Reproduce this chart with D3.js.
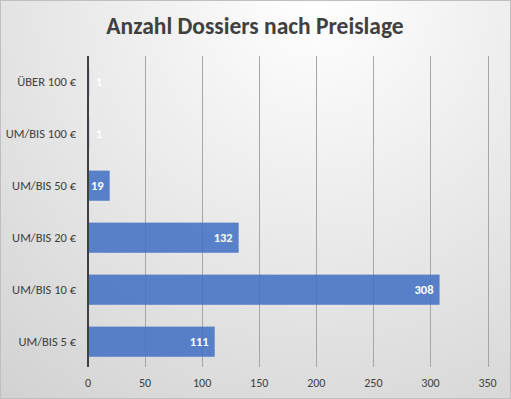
<!DOCTYPE html>
<html><head><meta charset="utf-8">
<script src="https://cdn.jsdelivr.net/npm/d3@7"></script>
<style>html,body{margin:0;padding:0;background:#fff;}svg{display:block;}</style>
</head><body>
<script>
const categories = ["ÜBER 100 €","UM/BIS 100 €","UM/BIS 50 €","UM/BIS 20 €","UM/BIS 10 €","UM/BIS 5 €"];
const values = [1,1,19,132,308,111];
const xTicks = [0,50,100,150,200,250,300,350];
const title = "Anzahl Dossiers nach Preislage";

const W=511,H=399;
const svg=d3.select("body").append("svg").attr("width",W).attr("height",H);
const defs=svg.append("defs");
const g1=defs.append("radialGradient").attr("id","bg").attr("gradientUnits","userSpaceOnUse")
  .attr("cx",W*0.62).attr("cy",0).attr("r",560);
g1.append("stop").attr("offset","0%").attr("stop-color","#ffffff");
g1.append("stop").attr("offset","100%").attr("stop-color","#cdcdcd");
svg.append("rect").attr("x",0.5).attr("y",0.5).attr("width",W-1).attr("height",H-1)
  .attr("fill","url(#bg)").attr("stroke","#bfbfbf").attr("stroke-width",1);

const font="Calibri, Carlito, Lato, sans-serif";
svg.append("text").attr("x",255).attr("y",34).attr("text-anchor","middle")
  .attr("font-family",font).attr("font-weight","bold").attr("font-size",23.5)
  .attr("fill","#404040").text(title);

const x=d3.scaleLinear().domain([0,350]).range([88,487.5]);
const y=d3.scaleBand().domain(categories).range([55.7,367.7]).paddingInner(0.42).paddingOuter(0.21);

// gridlines
svg.append("g").selectAll("line").data(xTicks.filter(d=>d>0)).join("line")
  .attr("x1",d=>Math.round(x(d))+0.5).attr("x2",d=>Math.round(x(d))+0.5)
  .attr("y1",56).attr("y2",367).attr("stroke","#a6a6a6").attr("stroke-width",1);

// bars
svg.append("g").selectAll("rect").data(values).join("rect")
  .attr("x",x(0)).attr("y",(d,i)=>y(categories[i]))
  .attr("width",d=>x(d)-x(0)).attr("height",y.bandwidth())
  .attr("fill","#4472c4").attr("fill-opacity",0.88);

// axis line
svg.append("line").attr("x1",88).attr("x2",88).attr("y1",56).attr("y2",367)
  .attr("stroke","#404040").attr("stroke-width",2);

// value labels
svg.append("g").selectAll("text").data(values).join("text")
  .attr("x",d=>d<10?99:x(d)-6).attr("y",(d,i)=>y(categories[i])+y.bandwidth()/2+4.5)
  .attr("text-anchor",d=>d<10?"middle":"end")
  .attr("font-family",font).attr("font-size",12.5).attr("font-weight","bold")
  .attr("fill","#ffffff").text(d=>d);

// category labels
svg.append("g").selectAll("text").data(categories).join("text")
  .attr("x",76).attr("y",d=>y(d)+y.bandwidth()/2+4.5).attr("text-anchor","end")
  .attr("font-family",font).attr("font-size",12.5).attr("fill","#404040").text(d=>d);

// x tick labels
svg.append("g").selectAll("text").data(xTicks).join("text")
  .attr("x",d=>x(d)).attr("y",387).attr("text-anchor","middle")
  .attr("font-family",font).attr("font-size",12).attr("fill","#404040").text(d=>d);
</script>
</body></html>
